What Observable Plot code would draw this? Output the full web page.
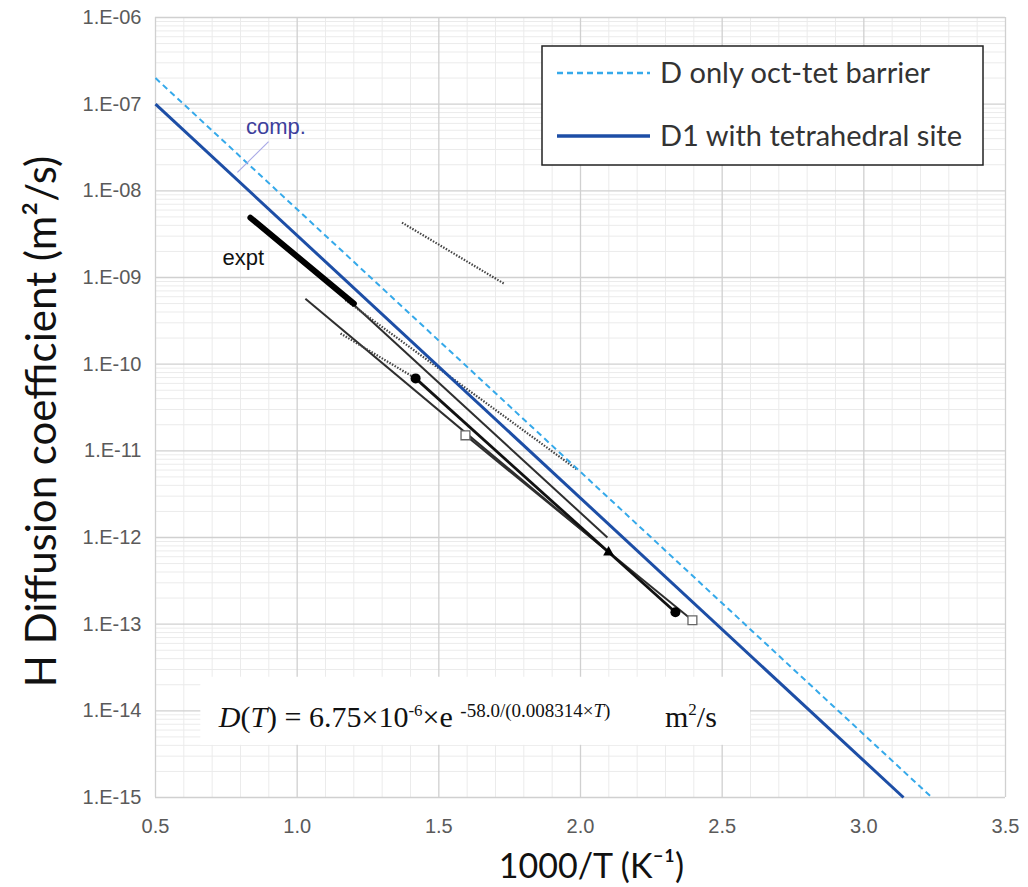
<!DOCTYPE html>
<html>
<head>
<meta charset="utf-8">
<script src="https://cdn.jsdelivr.net/npm/d3@7"></script>
<script src="https://cdn.jsdelivr.net/npm/@observablehq/plot@0.6"></script>
<style>
  body { margin: 0; background: #fff; }
  #chart { position: relative; width: 1028px; height: 887px; }
  #chart svg { display: block; }
</style>
</head>
<body>
<div id="chart"></div>
<script>
// Axis ticks and their printed labels
const xTicks = [0.5, 1.0, 1.5, 2.0, 2.5, 3.0, 3.5];
const xTickLabels = ["0.5", "1.0", "1.5", "2.0", "2.5", "3.0", "3.5"];
const yTicks = [1e-6, 1e-7, 1e-8, 1e-9, 1e-10, 1e-11, 1e-12, 1e-13, 1e-14, 1e-15];
const yTickLabels = ["1.E-06", "1.E-07", "1.E-08", "1.E-09", "1.E-10", "1.E-11", "1.E-12", "1.E-13", "1.E-14", "1.E-15"];

// Computed Arrhenius lines (1000/T in K^-1, D in m^2/s), end points of each straight line
const compSeries = ["D only oct-tet barrier", "D1 with tetrahedral site"];
const compStartInvT = [0.5, 0.5];
const compStartD = [2.0e-7, 1.0e-7];
const compEndInvT = [3.24, 3.14];
const compEndD = [1.0e-15, 1.0e-15];

// Experimental Arrhenius segments
const exptKind = ["thick", "dotted", "dotted", "thin", "thin", "dotted", "bold", "thin"];
const exptStartInvT = [0.835, 1.37, 1.17, 1.029, 1.195, 1.153, 1.418, 1.594];
const exptStartD = [4.9e-9, 4.3e-9, 5.5e-10, 5.7e-10, 5.0e-10, 2.26e-10, 6.85e-11, 1.51e-11];
const exptEndInvT = [1.20, 1.73, 1.99, 2.099, 2.095, 1.418, 2.335, 2.395];
const exptEndD = [5.0e-10, 8.5e-10, 6.0e-12, 6.75e-13, 1.0e-12, 6.85e-11, 1.37e-13, 1.11e-13];

// Experimental end-point symbols
const markerKind = ["filled", "filled", "triangle", "open", "open"];
const markerInvT = [1.418, 2.335, 2.099, 1.594, 2.395];
const markerD = [6.85e-11, 1.37e-13, 6.75e-13, 1.51e-11, 1.11e-13];

// Annotation anchors (data units)
const compLabel = {invT: 0.925, D: 5.4e-8, text: "comp."};
const compLeaderInvT = [0.899, 0.789];
const compLeaderD = [3.7e-8, 1.63e-8];
const exptLabel = {invT: 0.81, D: 1.7e-9, text: "expt"};
const formulaBoxInvT = [0.66, 2.60];
const formulaBoxD = [4.0e-15, 2.44e-14];
const formulaAnchor = {invT: 0.725, D: 6.5e-15};
const unitAnchor = {invT: 2.30, D: 6.5e-15};

const compColors = {"D only oct-tet barrier": "#35a9ea", "D1 with tetrahedral site": "#1d4ea6"};

const comp = compSeries.map((name, i) => ({
  name, x1: compStartInvT[i], y1: compStartD[i], x2: compEndInvT[i], y2: compEndD[i]
}));
const expt = exptKind.map((kind, i) => ({
  kind, x1: exptStartInvT[i], y1: exptStartD[i], x2: exptEndInvT[i], y2: exptEndD[i]
}));
const markers = markerKind.map((kind, i) => ({kind, x: markerInvT[i], y: markerD[i]}));
const yLabelRows = yTicks.map((v, i) => ({v, label: yTickLabels[i]}));

// Minor grid positions
const minorX = d3.range(5, 36).map(i => i / 10).filter(v => !xTicks.some(t => Math.abs(t - v) < 1e-9));
const minorY = [];
for (let e = -15; e < -6; e++) for (let k = 2; k <= 9; k++) minorY.push(k * Math.pow(10, e));

const tickFont = "'Liberation Sans Narrow', 'Liberation Sans', sans-serif";

const chart = Plot.plot({
  width: 1028,
  height: 887,
  marginLeft: 155,
  marginRight: 23,
  marginTop: 17,
  marginBottom: 90,
  style: {background: "#fff", overflow: "visible"},
  x: {domain: [0.5, 3.5], axis: null},
  y: {type: "log", domain: [1e-15, 1e-6], axis: null},
  marks: [
    Plot.ruleX(minorX, {stroke: "#ebebeb", strokeWidth: 1}),
    Plot.ruleY(minorY, {stroke: "#ebebeb", strokeWidth: 1}),
    Plot.ruleX(xTicks, {stroke: "#d0d0d0", strokeWidth: 1.3}),
    Plot.ruleY(yTicks, {stroke: "#d0d0d0", strokeWidth: 1.3}),
    // tick labels
    Plot.text(xTicks, {x: d => d, frameAnchor: "bottom", text: (d, i) => xTickLabels[i], dy: 35,
      fontSize: 20, fill: "#5a5a5a", fontFamily: tickFont}),
    Plot.text(yLabelRows, {y: "v", frameAnchor: "left", text: "label", textAnchor: "end", dx: -14,
      fontSize: 20, fill: "#5a5a5a", fontFamily: tickFont}),
    // formula panel
    Plot.rect([0], {x1: () => formulaBoxInvT[0], x2: () => formulaBoxInvT[1],
                    y1: () => formulaBoxD[0], y2: () => formulaBoxD[1], fill: "white"}),
    // experimental data
    Plot.link(expt.filter(d => d.kind === "thin"), {x1: "x1", y1: "y1", x2: "x2", y2: "y2", stroke: "#2e2e2e", strokeWidth: 2}),
    Plot.link(expt.filter(d => d.kind === "dotted"), {x1: "x1", y1: "y1", x2: "x2", y2: "y2", stroke: "#444", strokeWidth: 2.2, strokeDasharray: "1.5,1.5"}),
    Plot.link(expt.filter(d => d.kind === "bold"), {x1: "x1", y1: "y1", x2: "x2", y2: "y2", stroke: "#111", strokeWidth: 2.8}),
    Plot.link(expt.filter(d => d.kind === "thick"), {x1: "x1", y1: "y1", x2: "x2", y2: "y2", stroke: "#000", strokeWidth: 6, strokeLinecap: "round"}),
    Plot.dot(markers.filter(d => d.kind === "filled"), {x: "x", y: "y", r: 5, fill: "#000", symbol: "circle"}),
    Plot.dot(markers.filter(d => d.kind === "triangle"), {x: "x", y: "y", r: 4, fill: "#000", symbol: "triangle"}),
    Plot.dot(markers.filter(d => d.kind === "open"), {x: "x", y: "y", r: 5, fill: "#fff", stroke: "#666", strokeWidth: 1.3, symbol: "square"}),
    // computed lines
    Plot.link(comp.filter(d => d.name === compSeries[1]), {x1: "x1", y1: "y1", x2: "x2", y2: "y2", stroke: compColors[compSeries[1]], strokeWidth: 3}),
    Plot.link(comp.filter(d => d.name === compSeries[0]), {x1: "x1", y1: "y1", x2: "x2", y2: "y2", stroke: compColors[compSeries[0]], strokeWidth: 2, strokeDasharray: "6,4"}),
    // labels
    Plot.link([0], {x1: () => compLeaderInvT[0], y1: () => compLeaderD[0], x2: () => compLeaderInvT[1], y2: () => compLeaderD[1], stroke: "#a9a9e6", strokeWidth: 1.2}),
    Plot.text([compLabel], {x: "invT", y: "D", text: "text", fill: "#3d3f9c", fontSize: 22, fontFamily: "'Liberation Sans', Arial, sans-serif"}),
    Plot.text([exptLabel], {x: "invT", y: "D", text: "text", fill: "#111", fontSize: 22, fontFamily: "'Liberation Sans', Arial, sans-serif"}),
    // axis titles
    Plot.text(["1000/T (K⁻¹)"], {frameAnchor: "bottom", dx: 11, dy: 80, fontSize: 34, fill: "#111", fontFamily: "Lato, sans-serif", lineAnchor: "bottom"}),
    Plot.text(["H Diffusion coefficient (m²/s)"], {frameAnchor: "left", textAnchor: "middle", rotate: -90, dx: -113, dy: 14, fontSize: 42, fill: "#111", fontFamily: "Lato, sans-serif"})
  ]
});

document.getElementById("chart").appendChild(chart);

// Rate expression and legend drawn on top of the plot
const svg = d3.select(chart);
const sx = chart.scale("x"), sy = chart.scale("y");

const f = svg.append("text")
  .attr("x", sx.apply(formulaAnchor.invT)).attr("y", sy.apply(formulaAnchor.D))
  .attr("text-anchor", "start")
  .attr("font-family", "'Liberation Serif', 'Times New Roman', serif")
  .attr("font-size", 30).attr("fill", "#111");
f.append("tspan").attr("font-style", "italic").text("D");
f.append("tspan").text("(");
f.append("tspan").attr("font-style", "italic").text("T");
f.append("tspan").text(") = 6.75×10");
f.append("tspan").attr("font-size", 17).attr("dy", -11).text("-6");
f.append("tspan").attr("dy", 11).text("×e ");
const ex = f.append("tspan").attr("font-size", 19).attr("dy", -10);
ex.append("tspan").text("-58.0/(0.008314×");
ex.append("tspan").attr("font-style", "italic").text("T");
ex.append("tspan").text(")");

const u = svg.append("text")
  .attr("x", sx.apply(unitAnchor.invT)).attr("y", sy.apply(unitAnchor.D))
  .attr("text-anchor", "start")
  .attr("font-family", "'Liberation Serif', 'Times New Roman', serif")
  .attr("font-size", 30).attr("fill", "#111");
u.append("tspan").text("m");
u.append("tspan").attr("font-size", 17).attr("dy", -12).text("2");
u.append("tspan").attr("dy", 12).text("/s");

const lg = svg.append("g").attr("transform", "translate(542,46)");
lg.append("rect").attr("width", 441).attr("height", 119).attr("fill", "#fff").attr("stroke", "#222").attr("stroke-width", 1.5);
compSeries.forEach((name, i) => {
  const yy = 27 + i * 63;
  lg.append("line").attr("x1", 15).attr("x2", 108).attr("y1", yy).attr("y2", yy)
    .attr("stroke", compColors[name])
    .attr("stroke-width", i === 0 ? 2.5 : 3.5)
    .attr("stroke-dasharray", i === 0 ? "6,4" : null);
  lg.append("text").attr("x", 118).attr("y", yy).attr("dy", "0.35em")
    .attr("text-anchor", "start")
    .attr("font-family", "Lato, sans-serif").attr("font-size", 29).attr("fill", "#333").text(name);
});
</script>
</body>
</html>
